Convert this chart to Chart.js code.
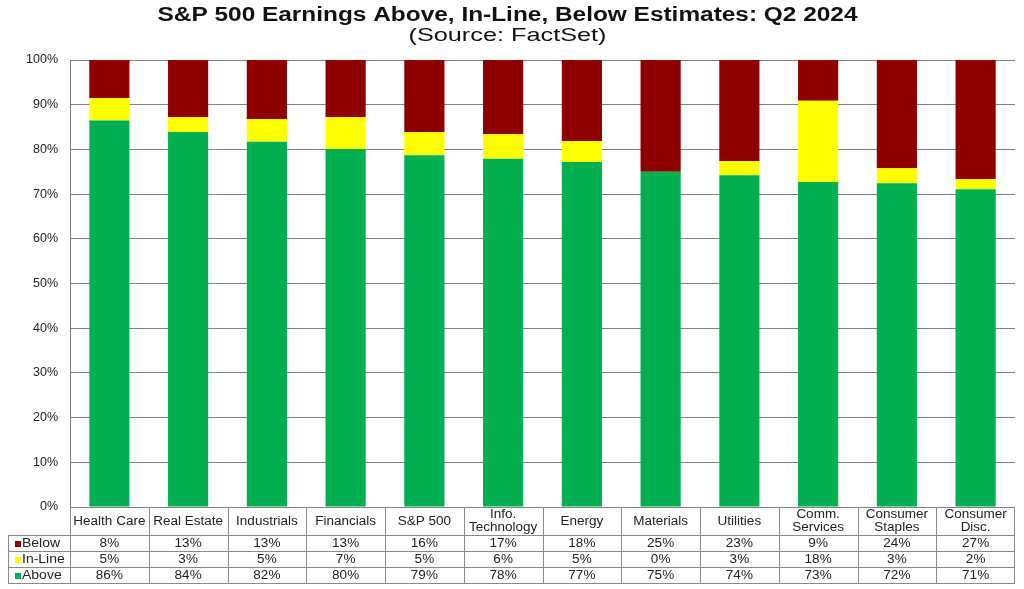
<!DOCTYPE html>
<html>
<head>
<meta charset="utf-8">
<script src="https://cdn.jsdelivr.net/npm/chart.js@4.4.1/dist/chart.umd.min.js"></script>
<style>
html,body{margin:0;padding:0;background:#fff;}
#wrap{width:1024px;height:589px;position:relative;}
</style>
</head>
<body>
<div id="wrap"><canvas id="c" width="1024" height="589"></canvas></div>
<script>
// ---- data ----
const categories = [
  ["Health Care"], ["Real Estate"], ["Industrials"], ["Financials"], ["S&P 500"],
  ["Info.", "Technology"], ["Energy"], ["Materials"], ["Utilities"],
  ["Comm.", "Services"], ["Consumer", "Staples"], ["Consumer", "Disc."]
];
const above  = [86.44, 83.9, 81.7, 80.1, 78.7, 77.9, 77.2, 75.0, 74.2, 72.7, 72.4, 71.1];
const inLine = [5.08,  3.3,  5.1,  7.1,  5.2,  5.5,  4.7,  0.0,  3.2, 18.2,  3.4,  2.2];
const below  = [8.47, 12.8, 13.2, 12.8, 16.1, 16.6, 18.1, 25.0, 22.6,  9.1, 24.2, 26.7];
const yTicks = [0, 10, 20, 30, 40, 50, 60, 70, 80, 90, 100];
const titleText = "S&P 500 Earnings Above, In-Line, Below Estimates: Q2 2024";
const subtitleText = "(Source: FactSet)";

const colors = { below: "#8E0000", inLine: "#FFFF00", above: "#00B050" };
const FONT = "'Liberation Sans', Arial, sans-serif";

function wideText(ctx, text, x, y, sx) {
  ctx.save();
  ctx.translate(x, y);
  ctx.scale(sx, 1);
  ctx.fillText(text, 0, 0);
  ctx.restore();
}

const titlePlugin = {
  id: "wideTitle",
  afterDraw(chart) {
    const ctx = chart.ctx;
    const cx = (chart.chartArea.left + chart.chartArea.right) / 2 - 35;
    ctx.save();
    ctx.fillStyle = "#111";
    ctx.textAlign = "center";
    ctx.textBaseline = "alphabetic";
    ctx.font = "bold 19.5px " + FONT;
    let w = ctx.measureText(titleText).width;
    wideText(ctx, titleText, cx, 20.5, 700 / w);
    ctx.font = "18.5px " + FONT;
    w = ctx.measureText(subtitleText).width;
    wideText(ctx, subtitleText, cx, 41, 198 / w);
    ctx.restore();
  }
};

const tablePlugin = {
  id: "dataTable",
  afterDraw(chart) {
    const ctx = chart.ctx;
    const xs = chart.scales.x;
    const area = chart.chartArea;
    const n = categories.length;
    const left = area.left, right = area.right;
    const colW = (right - left) / n;
    const top = area.bottom;
    const hdrB = top + 28;
    const rowH = 16;
    const labelLeft = 8;
    const SX = 1.08;
    const rows = [
      { name: "Below", data: below, color: colors.below },
      { name: "In-Line", data: inLine, color: colors.inLine },
      { name: "Above", data: above, color: colors.above }
    ];
    const bottom = hdrB + rowH * rows.length;
    ctx.save();
    ctx.strokeStyle = "#8a8a8a";
    ctx.lineWidth = 1;
    ctx.beginPath();
    ctx.moveTo(left + 0.5, top); ctx.lineTo(left + 0.5, bottom);
    ctx.moveTo(right - 0.5, top); ctx.lineTo(right - 0.5, bottom);
    for (let i = 1; i < n; i++) {
      const x = Math.round(left + colW * i) + 0.5;
      ctx.moveTo(x, top); ctx.lineTo(x, bottom);
    }
    ctx.moveTo(labelLeft, Math.round(hdrB) + 0.5); ctx.lineTo(right, Math.round(hdrB) + 0.5);
    for (let r = 1; r <= rows.length; r++) {
      const y = Math.round(hdrB + rowH * r) + 0.5;
      ctx.moveTo(labelLeft, y); ctx.lineTo(right, y);
    }
    ctx.moveTo(labelLeft + 0.5, hdrB); ctx.lineTo(labelLeft + 0.5, bottom);
    ctx.stroke();

    ctx.fillStyle = "#222";
    ctx.font = "12.5px " + FONT;
    ctx.textAlign = "center";
    ctx.textBaseline = "middle";
    categories.forEach((lines, i) => {
      const cx = xs.getPixelForValue(i);
      const cy = (top + hdrB) / 2;
      if (lines.length === 1) {
        wideText(ctx, lines[0], cx, cy + 1, SX);
      } else {
        wideText(ctx, lines[0], cx, cy - 6, SX);
        wideText(ctx, lines[1], cx, cy + 7, SX);
      }
    });
    rows.forEach((row, r) => {
      const cy = hdrB + rowH * r + rowH / 2 + 1;
      ctx.textAlign = "center";
      ctx.fillStyle = "#222";
      row.data.forEach((v, i) => {
        wideText(ctx, Math.round(v) + "%", xs.getPixelForValue(i), cy, SX);
      });
      ctx.fillStyle = row.color;
      ctx.fillRect(labelLeft + 7, cy - 3, 6, 6);
      ctx.fillStyle = "#222";
      ctx.textAlign = "left";
      wideText(ctx, row.name, labelLeft + 14, cy, 1.12);
    });
    ctx.restore();
  }
};

new Chart(document.getElementById("c"), {
  type: "bar",
  data: {
    labels: categories.map(l => l.join(" ")),
    datasets: [
      { label: "Above", data: above, backgroundColor: colors.above },
      { label: "In-Line", data: inLine, backgroundColor: colors.inLine },
      { label: "Below", data: below, backgroundColor: colors.below }
    ]
  },
  options: {
    responsive: false,
    animation: false,
    devicePixelRatio: 1,
    layout: { padding: { left: 0, right: 9, top: 60, bottom: 82 } },
    datasets: { bar: { categoryPercentage: 1.0, barPercentage: 0.51 } },
    plugins: {
      legend: { display: false },
      tooltip: { enabled: false },
      title: { display: false },
      subtitle: { display: false }
    },
    scales: {
      x: {
        stacked: true,
        display: false,
        grid: { display: false }
      },
      y: {
        stacked: true,
        min: 0,
        max: 100,
        afterFit(scale) { scale.width = 70; },
        afterBuildTicks(scale) { scale.ticks = yTicks.map(v => ({ value: v })); },
        border: { display: true, color: "#808080", width: 1 },
        grid: { color: "#808080", lineWidth: 1, drawTicks: false },
        ticks: {
          padding: 12,
          color: "#222",
          font: { family: FONT, size: 12.5 },
          callback: v => v + "%"
        }
      }
    }
  },
  plugins: [tablePlugin, titlePlugin]
});
</script>
</body>
</html>
